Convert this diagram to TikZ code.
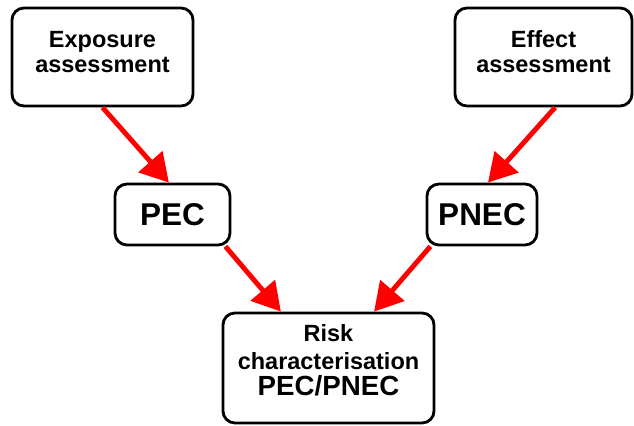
\documentclass[tikz,border=0pt]{standalone}
\usepackage{fontspec}
\setmainfont{Liberation Sans}
\usetikzlibrary{arrows.meta,
                positioning
            }

\begin{document}
\begin{tikzpicture}[x=0.025cm, y=-0.025cm,
        box/.style={draw, line width=2pt, rounded corners=0.3cm, align=center, inner sep=0pt},
        small/.style={font=\fontsize{16.7}{17.5}\selectfont\bfseries},
        big/.style={font=\fontsize{22.4}{24}\selectfont\bfseries},
        arr/.style={draw=red, line width=3.5pt, -{Triangle[length=0.7cm, width=0.78cm]}, red}
    ]
            \useasboundingbox (0, 0) rectangle (634, 426);
            \node[box, small, minimum width=4.525cm, minimum height=2.45cm] (expo) at (102.5, 57) {Exposure\\assessment\\[-10pt]};
            \node[box, small, minimum width=4.425cm, minimum height=2.45cm] (effect) at (543.5, 57) {Effect\\assessment\\[-10pt]};
            \node[box, big, minimum width=2.875cm, minimum height=1.525cm] (pec) at (172.5, 214.5) {PEC};
            \node[box, big, minimum width=2.75cm, minimum height=1.525cm] (pnec) at (482, 214.5) {PNEC};
            \node[box, small, minimum width=5.275cm, minimum height=2.75cm] (risk) at (328.5, 368)
                {Risk\\[2pt]characterisation\\[1pt]{\fontsize{19.7}{22}\selectfont PEC/PNEC}\\[-6pt]};
            \draw[arr] (expo.south) -- ([xshift=-0.09cm]pec.north);
            \draw[arr] ([xshift=0.29cm]effect.south) -- ([xshift=0.15cm]pnec.north);
            \draw[arr] ([xshift=-0.15cm]pec.south east) -- ([xshift=-1.19cm]risk.north);
            \draw[arr] ([xshift=0.12cm]pnec.south west) -- ([xshift=1.14cm]risk.north);
        \end{tikzpicture}
\end{document}
